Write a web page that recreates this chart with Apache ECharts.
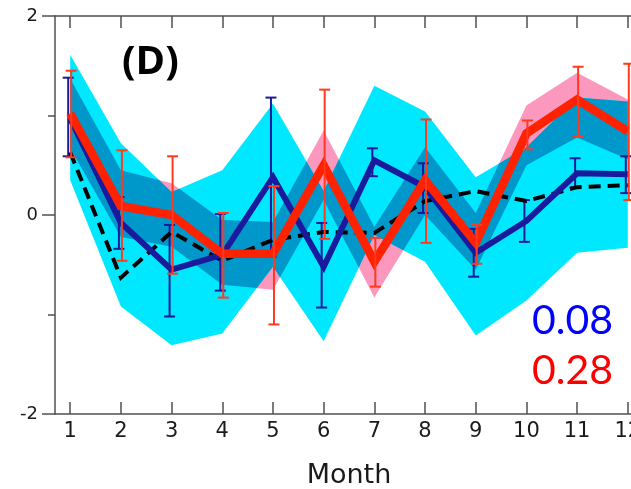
<!DOCTYPE html>
<html><head><meta charset="utf-8">
<script src="https://cdn.jsdelivr.net/npm/echarts@6/dist/echarts.min.js"></script>
<style>html,body{margin:0;padding:0;background:#fff;overflow:hidden;}#wrap{width:631px;height:489px;overflow:hidden;position:relative;}#c{width:643px;height:489px;position:absolute;left:0;top:0;}</style>
</head><body><div id="wrap"><div id="c"></div></div>
<script>
// ---- data ----
const months = [1, 2, 3, 4, 5, 6, 7, 8, 9, 10, 11, 12];
const monthTicks = [1, 2, 3, 4, 5, 6, 7, 8, 9, 10, 11, 12];
const yLabelValues = [-2, 0, 2];
const panelLabel = '(D)';
const corrBlue = '0.08';
const corrRed = '0.28';
const axisName = 'Month';

const blueLine = [0.97, -0.08, -0.55, -0.40, 0.38, -0.52, 0.55, 0.28, -0.38, -0.06, 0.42, 0.41];
const blueErrLow = [0.59, -0.34, -1.02, -0.76, -0.42, -0.93, 0.39, 0.02, -0.62, -0.27, 0.28, 0.22];
const blueErrHigh = [1.38, 0.18, -0.10, 0.01, 1.18, -0.08, 0.67, 0.52, -0.14, 0.15, 0.57, 0.59];

const redLine = [1.02, 0.09, 0.00, -0.39, -0.39, 0.50, -0.47, 0.35, -0.28, 0.82, 1.16, 0.84];
const redErrLow = [0.58, -0.46, -0.59, -0.83, -1.10, -0.24, -0.72, -0.28, -0.49, 0.66, 0.79, 0.15];
const redErrHigh = [1.45, 0.65, 0.59, 0.02, 0.29, 1.26, -0.23, 0.96, -0.10, 0.95, 1.49, 1.52];

const blackDashed = [0.63, -0.63, -0.17, -0.46, -0.25, -0.17, -0.18, 0.14, 0.24, 0.14, 0.28, 0.30];

const cyanUpper = [1.61, 0.72, 0.23, 0.45, 1.12, 0.24, 1.30, 1.04, 0.38, 0.68, 1.18, 1.14];
const cyanLower = [0.35, -0.92, -1.31, -1.19, -0.52, -1.27, -0.20, -0.47, -1.21, -0.86, -0.38, -0.33];
const pinkUpper = [1.37, 0.45, 0.32, -0.05, -0.07, 0.85, -0.12, 0.68, 0.02, 1.10, 1.43, 1.16];
const pinkLower = [0.67, -0.22, -0.32, -0.70, -0.75, 0.15, -0.83, 0.00, -0.55, 0.50, 0.78, 0.56];

// ---- styles ----
const CYAN = '#00e8ff', PINK = '#fc97bd', OVERLAP = '#0097cb';
const NAVY = '#1a1a9c', RED = '#ff2200', RED_ERR = '#ff3a1e';
const AXIS = '#505050', TXT = '#1a1a1a';
const FONT = 'DejaVu Sans';

// geometric overlap of two bands (exact, piecewise linear between months)
function overlapRuns(aU, aL, bU, bL) {
  const pts = [];
  for (let i = 0; i < months.length - 1; i++) {
    const x0 = months[i], x1 = months[i + 1];
    const ts = [0, 1];
    [[aU, bU], [aL, bL], [aU, bL], [aL, bU]].forEach(function (pq) {
      const d0 = pq[0][i] - pq[1][i], d1 = pq[0][i + 1] - pq[1][i + 1];
      if (d0 * d1 < 0) ts.push(d0 / (d0 - d1));
    });
    ts.sort(function (a, b) { return a - b; });
    ts.forEach(function (t) {
      if (i > 0 && t === 0) return;
      const L = function (arr) { return arr[i] + (arr[i + 1] - arr[i]) * t; };
      pts.push([x0 + (x1 - x0) * t, Math.min(L(aU), L(bU)), Math.max(L(aL), L(bL))]);
    });
  }
  const runs = [];
  let cur = [];
  pts.forEach(function (p) {
    if (p[1] - p[2] >= -1e-9) { cur.push(p); }
    else { if (cur.length > 1) runs.push(cur); cur = []; }
  });
  if (cur.length > 1) runs.push(cur);
  return runs;
}

function bandSeries(lower, upper, color, z) {
  return {
    type: 'custom', z: z, silent: true, animation: false,
    data: [[months[0], lower[0]]],
    renderItem: function (params, api) {
      const pts = [];
      for (let i = 0; i < months.length; i++) pts.push(api.coord([months[i], upper[i]]));
      for (let i = months.length - 1; i >= 0; i--) pts.push(api.coord([months[i], lower[i]]));
      return { type: 'polygon', shape: { points: pts }, style: { fill: color } };
    }
  };
}
function overlapSeries(color, z) {
  return {
    type: 'custom', z: z, silent: true, animation: false,
    data: [[months[0], 0]],
    renderItem: function (params, api) {
      const runs = overlapRuns(pinkUpper, pinkLower, cyanUpper, cyanLower);
      const children = runs.map(function (run) {
        const pts = [];
        run.forEach(function (p) { pts.push(api.coord([p[0], p[1]])); });
        for (let k = run.length - 1; k >= 0; k--) pts.push(api.coord([run[k][0], Math.min(run[k][1], run[k][2])]));
        return { type: 'polygon', shape: { points: pts }, style: { fill: color } };
      });
      return { type: 'group', children: children };
    }
  };
}
function errSeries(low, high, color, dx, z) {
  return {
    type: 'custom', z: z, silent: true, animation: false,
    data: months.map(function (m, i) { return [m, low[i], high[i]]; }),
    encode: { x: 0, y: [1, 2] },
    renderItem: function (params, api) {
      const x = api.value(0);
      const p1 = api.coord([x, api.value(1)]);
      const p2 = api.coord([x, api.value(2)]);
      const cx = p1[0] + dx, hw = 5.5;
      const st = { stroke: color, lineWidth: 2 };
      return { type: 'group', children: [
        { type: 'line', shape: { x1: cx, y1: p1[1], x2: cx, y2: p2[1] }, style: st },
        { type: 'line', shape: { x1: cx - hw, y1: p1[1], x2: cx + hw, y2: p1[1] }, style: st },
        { type: 'line', shape: { x1: cx - hw, y1: p2[1], x2: cx + hw, y2: p2[1] }, style: st }
      ]};
    }
  };
}
function lineSeries(vals, color, width, type, z) {
  return {
    type: 'line', z: z, silent: true, animation: false, symbol: 'none',
    data: months.map(function (m, i) { return [m, vals[i]]; }),
    lineStyle: { color: color, width: width, type: type, join: 'miter', cap: 'butt' }
  };
}

const chart = echarts.init(document.getElementById('c'), null, { renderer: 'canvas', width: 643, height: 489 });
chart.setOption({
  animation: false,
  grid: { left: 55, top: 16, right: 0, bottom: 75, containLabel: false, outerBoundsMode: 'none' },
  xAxis: [{
    type: 'value', position: 'bottom', min: 0.7, max: 12.3,
    name: axisName, nameLocation: 'middle', nameGap: 48,
    nameTextStyle: { fontFamily: FONT, fontSize: 27, color: TXT },
    axisLine: { show: true, onZero: false, lineStyle: { color: AXIS, width: 1.5 } },
    axisTick: { show: true, inside: true, length: 12, customValues: monthTicks, lineStyle: { color: AXIS, width: 1.5 } },
    axisLabel: { show: true, customValues: monthTicks, margin: 7, fontFamily: FONT, fontSize: 21, color: TXT },
    splitLine: { show: false }
  }, {
    type: 'value', position: 'top', min: 0.7, max: 12.3,
    axisLine: { show: true, onZero: false, lineStyle: { color: AXIS, width: 1.5 } },
    axisTick: { show: true, inside: true, length: 12, customValues: monthTicks, lineStyle: { color: AXIS, width: 1.5 } },
    axisLabel: { show: false },
    splitLine: { show: false }
  }],
  yAxis: [{
    type: 'value', min: -2, max: 2, interval: 2,
    axisLine: { show: true, onZero: false, lineStyle: { color: AXIS, width: 1.5 } },
    axisTick: { show: true, length: 13, lineStyle: { color: AXIS, width: 1.5 } },
    minorTick: { show: true, splitNumber: 2, length: 7, lineStyle: { color: AXIS, width: 1.5 } },
    axisLabel: { margin: 17, fontFamily: FONT, fontSize: 18, color: TXT,
      formatter: function (v) { return yLabelValues.indexOf(v) >= 0 ? String(v) : ''; } },
    splitLine: { show: false }
  }],
  series: [
    bandSeries(pinkLower, pinkUpper, PINK, 1),
    bandSeries(cyanLower, cyanUpper, CYAN, 1.3),
    overlapSeries(OVERLAP, 1.6),
    errSeries(blueErrLow, blueErrHigh, NAVY, -2, 3),
    lineSeries(blackDashed, '#000000', 4, [12, 7], 3.5),
    lineSeries(blueLine, NAVY, 6, 'solid', 4),
    lineSeries(redLine, RED, 8.5, 'solid', 5),
    errSeries(redErrLow, redErrHigh, RED_ERR, 1, 6)
  ],
  graphic: [
    { type: 'text', left: 122, top: 43, z: 10, style: { text: panelLabel, font: 'bold 40px "Open Sans"', fill: '#000' } },
    { type: 'text', left: 532, top: 300, z: 10, style: { text: corrBlue, font: '41px Lato', fill: '#0000ff' } },
    { type: 'text', left: 532, top: 350, z: 10, style: { text: corrRed, font: '41px Lato', fill: '#ff0000' } }
  ]
});
</script>
</body></html>
